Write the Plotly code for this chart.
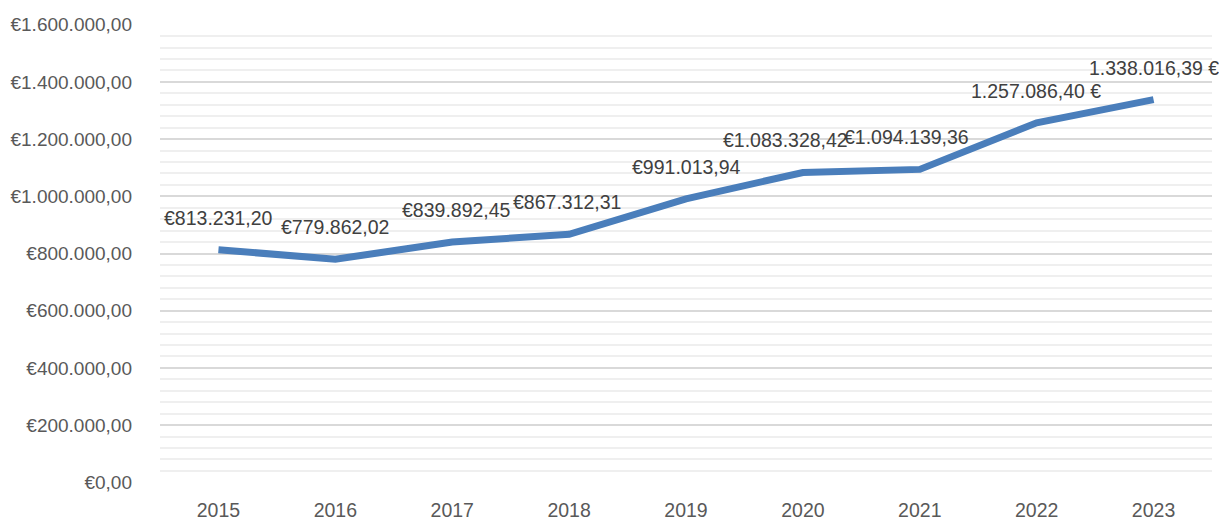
import plotly.graph_objects as go

years = ["2015", "2016", "2017", "2018", "2019", "2020", "2021", "2022", "2023"]
values = [813231.20, 779862.02, 839892.45, 867312.31, 991013.94,
          1083328.42, 1094139.36, 1257086.40, 1338016.39]
labels = ["€813.231,20", "€779.862,02", "€839.892,45", "€867.312,31", "€991.013,94",
          "€1.083.328,42", "€1.094.139,36", "1.257.086,40 €", "1.338.016,39 €"]
label_xshift = [0, 0, 4, -2, 0, -17, -13, -1, 0]

FONT = "Liberation Sans, Arial, sans-serif"


def euro(v):
    s = f"{v:,.2f}".replace(",", "X").replace(".", ",").replace("X", ".")
    return "€" + s


fig = go.Figure()
fig.add_trace(go.Scatter(
    x=years, y=values, mode="lines",
    line=dict(color="#4a7ebb", width=7),
    hoverinfo="skip",
))

# category axis: position annotations by category index
for i, (y, t, dx) in enumerate(zip(values, labels, label_xshift)):
    fig.add_annotation(x=i, y=y, xref="x", yref="y", text=t, showarrow=False,
                       yshift=32, xshift=dx,
                       font=dict(family=FONT, size=19.5, color="#404040"))

ticks = list(range(0, 1600001, 200000))
fig.update_layout(
    width=1219, height=514,
    margin=dict(l=152, r=15, t=16, b=39),
    plot_bgcolor="white", paper_bgcolor="white",
    showlegend=False,
    font=dict(family=FONT, size=19, color="#595959"),
    xaxis=dict(type="category", range=[-0.5, 8.5], showgrid=False, showline=False,
               zeroline=False, ticks="", automargin=False, ticklabelstandoff=13,
               tickfont=dict(size=19.5, color="#595959")),
    yaxis=dict(range=[-2500, 1602500], tickvals=ticks, ticktext=[euro(v) for v in ticks],
               showgrid=True, gridcolor="#d9d9d9", gridwidth=2, automargin=False,
               zeroline=False, showline=False, ticks="", ticklabelstandoff=27,
               minor=dict(dtick=40000, tick0=0, showgrid=True, gridcolor="#efefef", gridwidth=2),
               tickfont=dict(size=19, color="#595959")),
)

fig.write_html("out.html")
